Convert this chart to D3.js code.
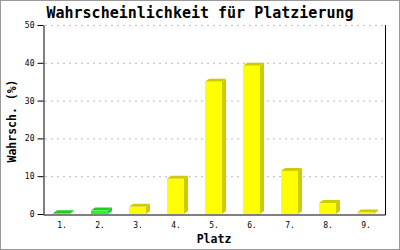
<!DOCTYPE html>
<html><head><meta charset="utf-8">
<script src="https://cdn.jsdelivr.net/npm/d3@7"></script>
<style>html,body{margin:0;padding:0;background:#fff;}svg{display:block;}</style>
</head><body>
<script>
const categories = ["1.","2.","3.","4.","5.","6.","7.","8.","9."];
const values = [0.2, 0.9, 1.9, 9.3, 35, 39.2, 11.4, 2.9, 0.4];
const highlight = [true, true, false, false, false, false, false, false, false];
const yTicks = [0, 10, 20, 30, 40, 50];
const title = "Wahrscheinlichkeit für Platzierung";
const xTitle = "Platz";
const yTitle = "Wahrsch. (%)";

const W = 400, H = 250;
const L = 43, R = 385, T = 25, B = 214;
const svg = d3.select("body").append("svg").attr("width", W).attr("height", H);
svg.append("rect").attr("x",0.5).attr("y",0.5).attr("width",W-1).attr("height",H-1)
  .attr("fill","#fff").attr("stroke","#999");

const x = d3.scaleBand().domain(categories).range([L, R]).padding(0);
const y = d3.scaleLinear().domain([0, 50]).range([B, T]);
const mono = "'DejaVu Sans Mono', monospace";

// grid
svg.append("g").selectAll("line").data(yTicks.filter(d => d > 0)).join("line")
  .attr("x1", L + 2).attr("x2", R).attr("y1", d => y(d) + 0.5).attr("y2", d => y(d) + 0.5)
  .attr("stroke", "#bbb").attr("stroke-dasharray", "2,4");

// bars
const bw = 17, dx = 4, dy = 3;
const g = svg.append("g");
categories.forEach((c, i) => {
  const cx = x(c) + x.bandwidth() / 2;
  const x0 = Math.round(cx - 9), x1 = x0 + bw;
  const yt = y(values[i]);
  const front = highlight[i] ? "#22ff22" : "#ffff00";
  const shade = highlight[i] ? "#22cc22" : "#cccc00";
  // side
  g.append("polygon").attr("points", [[x1, yt],[x1+dx, yt-dy],[x1+dx, B-dy],[x1, B]].join(" ")).attr("fill", shade);
  // top
  g.append("polygon").attr("points", [[x0, yt],[x0+dx, yt-dy],[x1+dx, yt-dy],[x1, yt]].join(" ")).attr("fill", shade);
  // front
  g.append("rect").attr("x", x0).attr("y", yt).attr("width", bw).attr("height", B - yt).attr("fill", front);
});

// axes
const yAxis = d3.axisLeft(y).tickValues(yTicks).tickSize(6).tickPadding(3).tickSizeOuter(0);
const ya = svg.append("g").attr("transform", `translate(${L + 0.5},0)`).call(yAxis);
ya.selectAll("text").attr("font-family", mono).attr("font-size", 8).attr("fill", "#000");
ya.selectAll("line,path").attr("stroke", "#000");

const xAxis = d3.axisBottom(x).tickSize(0).tickPadding(8).tickSizeOuter(0);
const xa = svg.append("g").attr("transform", `translate(0,${B + 0.5})`).call(xAxis);
xa.selectAll("text").attr("font-family", mono).attr("font-size", 8).attr("fill", "#000");
xa.select("path").attr("stroke", "#000");

svg.append("line").attr("x1", R + 0.5).attr("x2", R + 0.5).attr("y1", T).attr("y2", B + 1).attr("stroke", "#000");

// titles
svg.append("text").attr("x", 200).attr("y", 18).attr("text-anchor", "middle")
  .attr("font-family", mono).attr("font-weight", "bold").attr("font-size", 15).text(title);
svg.append("text").attr("x", 214).attr("y", 243).attr("text-anchor", "middle")
  .attr("font-family", mono).attr("font-weight", "bold").attr("font-size", 11.5).text(xTitle);
svg.append("text").attr("transform", "translate(16,121) rotate(-90)").attr("text-anchor", "middle")
  .attr("font-family", mono).attr("font-weight", "bold").attr("font-size", 11.5).text(yTitle);
</script>
</body></html>
